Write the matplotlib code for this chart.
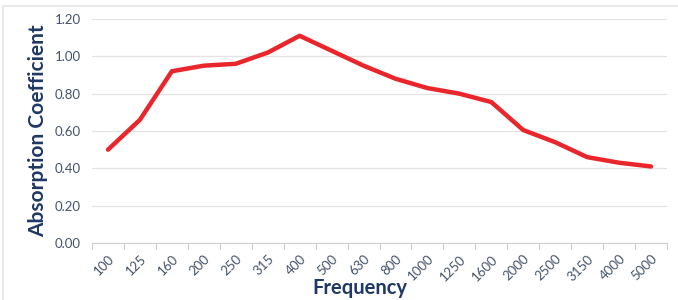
import matplotlib
matplotlib.use("Agg")
import matplotlib.pyplot as plt
from matplotlib.lines import Line2D
import numpy as np

frequencies = ["100", "125", "160", "200", "250", "315", "400", "500", "630", "800",
               "1000", "1250", "1600", "2000", "2500", "3150", "4000", "5000"]
absorption = [0.50, 0.66, 0.92, 0.95, 0.96, 1.02, 1.11, 1.03, 0.95, 0.88,
              0.83, 0.80, 0.755, 0.605, 0.54, 0.46, 0.43, 0.41]
y_ticks = [0.0, 0.2, 0.4, 0.6, 0.8, 1.0, 1.2]

plt.rcParams['font.family'] = ['Lato', 'DejaVu Sans']

fig = plt.figure(figsize=(6.78, 3.0), dpi=100)
ax = fig.add_axes([92/678, 1-243/300, 575/678, 224/300])

x = np.arange(len(frequencies))
ax.plot(x, absorption, color='#e8262b', lw=3.2, solid_joinstyle='round', solid_capstyle='round')

ax.set_xlim(-0.5, len(frequencies) - 0.5)
ax.set_ylim(0, 1.2)
ax.set_yticks(y_ticks)
ax.set_yticklabels([f"{v:.2f}" for v in y_ticks], color='#44546a', fontsize=9.5)
ax.set_xticks(x)
ax.set_xticklabels(frequencies, rotation=45, ha='right', rotation_mode='anchor',
                   color='#44546a', fontsize=9.5)
ax.set_xticks(np.arange(-0.5, len(frequencies)), minor=True)
ax.tick_params(axis='x', which='major', length=0, pad=7)
ax.tick_params(axis='x', which='minor', length=4, color='#bfbfbf')
ax.tick_params(axis='y', length=0, pad=8)

ax.grid(axis='y', color='#e3e3e3', lw=0.9)
ax.set_axisbelow(True)
for s in ['top', 'right', 'left']:
    ax.spines[s].set_visible(False)
ax.spines['bottom'].set_color('#d0d0d0')

ax.set_xlabel("Frequency", fontsize=14.5, fontweight='bold', color='#1f3864', labelpad=-4)
ax.xaxis.set_label_coords((360 - 92) / 575, -0.155)
ax.xaxis.label.set_va('top')
ax.set_ylabel("Absorption Coefficient", fontsize=15, fontweight='bold', color='#1f3864', labelpad=5)

fig.add_artist(Line2D([3/678, 1], [1-6/300, 1-6/300], transform=fig.transFigure, color='#e6e6e6', lw=1.2))
fig.add_artist(Line2D([3/678, 3/678], [0, 1-6/300], transform=fig.transFigure, color='#e6e6e6', lw=1.2))

fig.savefig("out.png", dpi=100)
